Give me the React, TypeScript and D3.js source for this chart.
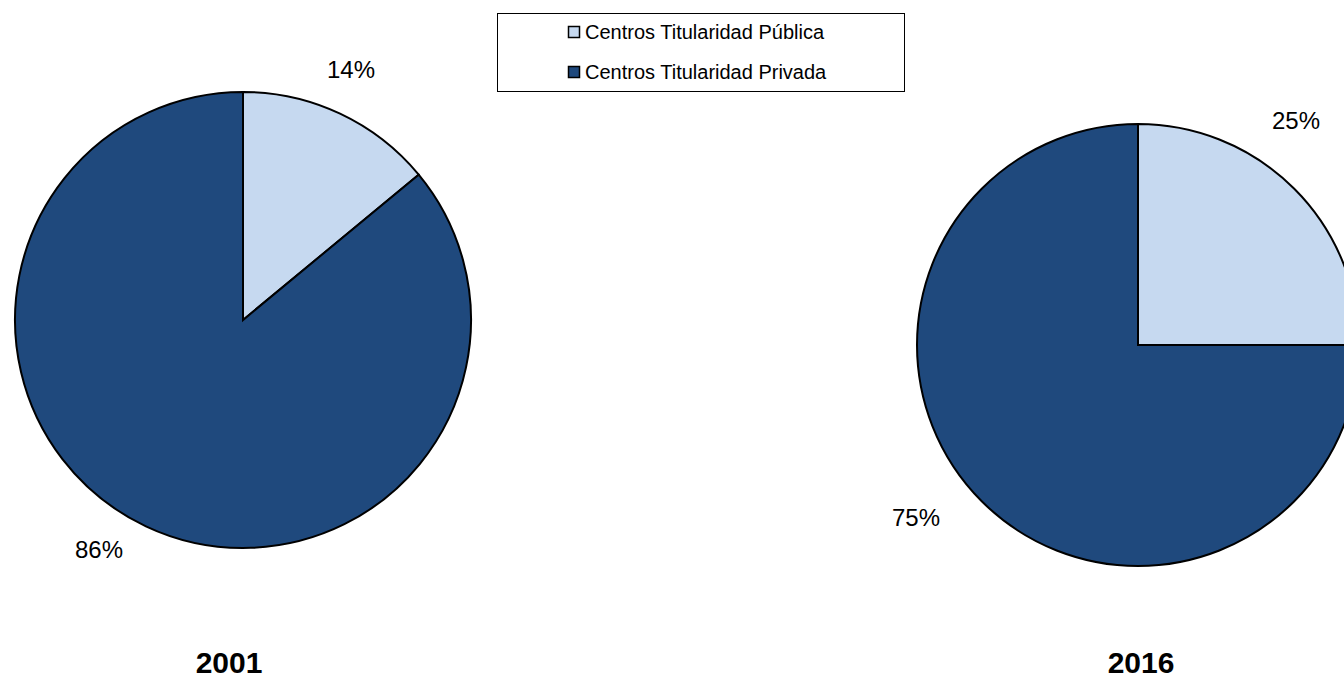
import { useEffect, useRef } from 'react'
import * as d3 from 'd3'

const categories = ['Centros Titularidad Pública', 'Centros Titularidad Privada']
const years = ['2001', '2016']
const values2001 = [14, 86]
const values2016 = [25, 75]
const colors = ['#C6D9F0', '#1F497D']

const W = 1344
const H = 678

// layout per pie: center, radius, label offsets from center
const pies = [
  { year: years[0], values: values2001, cx: 243, cy: 320, r: 228, labels: [[108, -251], [-144, 229]], yearX: 229 },
  { year: years[1], values: values2016, cx: 1138, cy: 345, r: 221, labels: [[158, -225], [-222, 172]], yearX: 1141 },
]

export default function App() {
  const svgRef = useRef<SVGSVGElement>(null)

  useEffect(() => {
    if (!svgRef.current) return
    const svg = d3.select(svgRef.current)
    svg.selectAll('*').remove()

    const font = '"Liberation Sans", Arial, sans-serif'

    pies.forEach(p => {
      const g = svg.append('g').attr('transform', `translate(${p.cx},${p.cy})`)
      const pie = d3.pie<number>().sort(null).value(d => d)
      const arc = d3.arc<d3.PieArcDatum<number>>().innerRadius(0).outerRadius(p.r)
      const arcs = pie(p.values)

      g.selectAll('path')
        .data(arcs)
        .enter()
        .append('path')
        .attr('d', arc)
        .attr('fill', (d, i) => colors[i])
        .attr('stroke', '#000')
        .attr('stroke-width', 2)
        .attr('stroke-linejoin', 'miter')

      g.selectAll('text.lbl')
        .data(arcs)
        .enter()
        .append('text')
        .attr('class', 'lbl')
        .attr('x', (d, i) => p.labels[i][0])
        .attr('y', (d, i) => p.labels[i][1])
        .attr('text-anchor', 'middle')
        .attr('dominant-baseline', 'central')
        .attr('font-family', font)
        .attr('font-size', 24)
        .attr('fill', '#000')
        .text(d => `${d.data}%`)

      svg.append('text')
        .attr('x', p.yearX)
        .attr('y', 662)
        .attr('text-anchor', 'middle')
        .attr('dominant-baseline', 'central')
        .attr('font-family', font)
        .attr('font-size', 30)
        .attr('font-weight', 'bold')
        .attr('fill', '#000')
        .text(p.year)
    })

    // Legend
    const lg = svg.append('g')
    lg.append('rect')
      .attr('x', 497.5).attr('y', 13.5)
      .attr('width', 407).attr('height', 78)
      .attr('fill', '#fff').attr('stroke', '#000').attr('stroke-width', 1)

    categories.forEach((c, i) => {
      const y = 32 + i * 40
      lg.append('rect')
        .attr('x', 568.5).attr('y', y - 5.5)
        .attr('width', 11).attr('height', 11)
        .attr('fill', colors[i]).attr('stroke', '#000').attr('stroke-width', 1.5)
      lg.append('text')
        .attr('x', 585).attr('y', y)
        .attr('dominant-baseline', 'central')
        .attr('font-family', font)
        .attr('font-size', 20)
        .attr('fill', '#000')
        .text(c)
    })
  }, [])

  return (
    <svg
      ref={svgRef}
      width={W}
      height={H}
      style={{ position: 'absolute', left: 0, top: 0, background: '#fff' }}
    />
  )
}
